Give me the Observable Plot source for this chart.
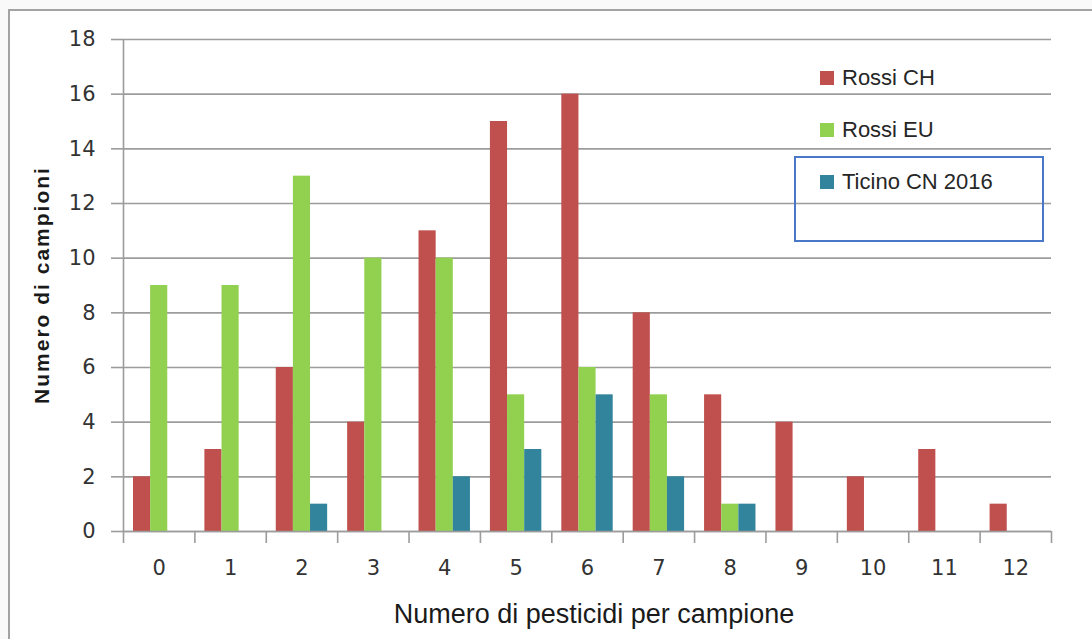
<!DOCTYPE html>
<html>
<head>
<meta charset="utf-8">
<script src="https://cdn.jsdelivr.net/npm/d3@7"></script>
<script src="https://cdn.jsdelivr.net/npm/@observablehq/plot@0.6"></script>
<style>
  html, body { margin: 0; padding: 0; background: #f9f9f9; }
  #page { position: relative; width: 1092px; height: 639px; overflow: hidden; }
  #frame { position: absolute; left: 8px; top: 9px; width: 1200px; height: 700px;
           background: #fff; border-left: 2px solid #a3a3a3; border-top: 2px solid #a3a3a3; }
  #chart { position: absolute; left: 0; top: 0; }
  .ytitle { position: absolute; left: 42px; top: 285px; transform: translate(-50%, -50%) rotate(-90deg);
            font: bold 21px "Liberation Sans", Arial, sans-serif; letter-spacing: 2px; color: #1a1a1a; white-space: nowrap; }
  .xtitle { position: absolute; left: 594px; top: 614px; transform: translate(-50%, -50%);
            font: 27px "Liberation Sans", Arial, sans-serif; color: #1a1a1a; white-space: nowrap; }
  #legend { position: absolute; left: 820px; top: 0; font: 22px "Liberation Sans", Arial, sans-serif; color: #262626; }
  .item { position: absolute; left: 0; display: flex; align-items: center; white-space: nowrap; transform: translateY(-50%); }
  .swatch { width: 14px; height: 14px; margin-right: 8px; }
  #legbox { position: absolute; left: 794px; top: 156px; width: 246px; height: 82px; border: 2px solid #4a78c8; }
</style>
</head>
<body>
<div id="page">
  <div id="frame"></div>
  <div id="chart"></div>
  <div id="legbox"></div>
  <div id="legend"></div>
  <div class="ytitle">Numero di campioni</div>
  <div class="xtitle">Numero di pesticidi per campione</div>
</div>
<script>
// Number of pesticides found per sample
const categories = [0, 1, 2, 3, 4, 5, 6, 7, 8, 9, 10, 11, 12];
const rossiCH = [2, 3, 6, 4, 11, 15, 16, 8, 5, 4, 2, 3, 1];
const rossiEU = [9, 9, 13, 10, 10, 5, 6, 5, 1, 0, 0, 0, 0];
const ticinoCN2016 = [0, 0, 1, 0, 2, 3, 5, 2, 1, 0, 0, 0, 0];

const seriesNames = ["Rossi CH", "Rossi EU", "Ticino CN 2016"];
const seriesValues = [rossiCH, rossiEU, ticinoCN2016];
const seriesColors = ["#c0504d", "#92d050", "#31849b"];
const yTicks = [0, 2, 4, 6, 8, 10, 12, 14, 16, 18];

// Long table: one row per (category, series)
const rows = [];
seriesValues.forEach((vals, s) => {
  categories.forEach((c, i) => rows.push({category: c, series: s, value: vals[i]}));
});

// Each category owns a unit-wide slot; the three bars sit side by side in the middle of it
const barWidth = 0.24;
const groupStart = -1.5 * barWidth;
const boundaries = d3.range(categories[0] - 0.5, categories[categories.length - 1] + 1, 1);

const grid = "#9c9c9c";

const chart = Plot.plot({
  width: 1092,
  height: 639,
  marginTop: 39,
  marginRight: 41,
  marginBottom: 108,
  marginLeft: 123,
  style: {background: "transparent", color: "#333", fontFamily: "'DejaVu Sans', sans-serif"},
  x: {domain: [boundaries[0], boundaries[boundaries.length - 1]]},
  y: {domain: [0, 18]},
  marks: [
    Plot.gridY(yTicks, {stroke: grid, strokeOpacity: 1, strokeWidth: 1.6}),
    Plot.axisY(yTicks, {tickSize: 12, tickPadding: 16, stroke: grid, strokeWidth: 1.6, fontSize: 21, fill: "#333", label: null}),
    Plot.ruleX([boundaries[0]], {stroke: grid, strokeWidth: 1.6}),
    Plot.rectY(rows.filter(d => d.value > 0), {
      x1: d => d.category + groupStart + d.series * barWidth,
      x2: d => d.category + groupStart + (d.series + 1) * barWidth,
      y: "value",
      fill: d => seriesColors[d.series]
    }),
    Plot.ruleY([0], {stroke: grid, strokeWidth: 1.6}),
    Plot.axisX(boundaries, {tickSize: 12, tickFormat: () => "", stroke: grid, strokeWidth: 1.6, label: null}),
    Plot.axisX(categories, {tickSize: 0, tickPadding: 29, fontSize: 21, fill: "#333", label: null})
  ]
});
document.getElementById("chart").appendChild(chart);

// Legend inside the plot area, at the upper right
const legend = d3.select("#legend");
const legendY = [78, 130, 182];
seriesNames.forEach((name, i) => {
  const item = legend.append("div").attr("class", "item").style("top", legendY[i] + "px");
  item.append("div").attr("class", "swatch").style("background", seriesColors[i]);
  item.append("span").text(name);
});
</script>
</body>
</html>
